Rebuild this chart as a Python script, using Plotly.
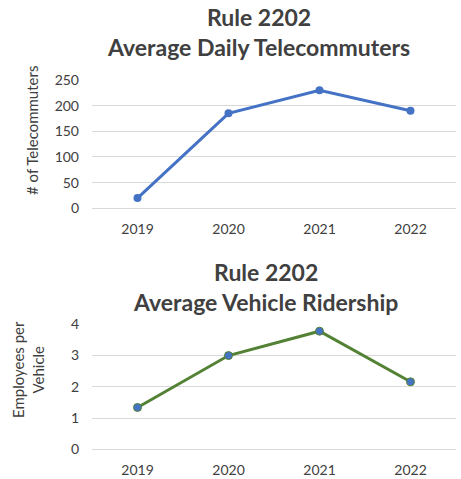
import plotly.graph_objects as go

years = ["2019", "2020", "2021", "2022"]
telecommuters = [20, 185, 230, 190]
ridership = [1.34, 3.0, 3.78, 2.16]
tele_ticks = [0, 50, 100, 150, 200, 250]
ride_ticks = [0, 1, 2, 3, 4]

W, H = 461, 479
FONT = "Lato"
TXT = "#404040"

def px(x):
    return x / W

def py(y):
    return 1 - y / H

fig = go.Figure()
fig.add_trace(go.Scatter(x=years, y=telecommuters, mode="lines+markers",
                         line=dict(color="#4472C4", width=3),
                         marker=dict(color="#4472C4", size=8),
                         xaxis="x", yaxis="y", showlegend=False))
fig.add_trace(go.Scatter(x=years, y=ridership, mode="lines+markers",
                         line=dict(color="#548235", width=3),
                         marker=dict(color="#4472C4", size=8, line=dict(color="#548235", width=1)),
                         xaxis="x2", yaxis="y2", showlegend=False))

xcommon = dict(type="category", showgrid=False, showline=True, linecolor="#D9D9D9",
               linewidth=1, ticks="", tickfont=dict(family=FONT, size=14, color=TXT),
               range=[-0.5, 3.5], fixedrange=True, automargin=False, ticklabelstandoff=8)
ycommon = dict(showgrid=True, gridcolor="#D9D9D9", gridwidth=1, zeroline=False,
               showline=False, ticks="", tickfont=dict(family=FONT, size=14, color=TXT),
               fixedrange=True, automargin=False, ticklabelstandoff=12)

ann = dict(xref="paper", yref="paper", showarrow=False, align="center",
           xanchor="center", yanchor="middle")

fig.update_layout(
    width=W, height=H,
    margin=dict(l=0, r=0, t=0, b=0, autoexpand=False),
    paper_bgcolor="white", plot_bgcolor="white",
    xaxis=dict(domain=[px(92), px(456)], anchor="y", **xcommon),
    yaxis=dict(domain=[py(208.3), py(80)], anchor="x", range=[0, 250],
               tickvals=tele_ticks, **ycommon),
    xaxis2=dict(domain=[px(92), px(456)], anchor="y2", **xcommon),
    yaxis2=dict(domain=[py(449.3), py(324.3)], anchor="x2", range=[0, 4],
                tickvals=ride_ticks, **ycommon),
    annotations=[
        dict(text="<b>Rule 2202<br>Average Daily Telecommuters</b>", x=px(258), y=py(32),
             font=dict(family=FONT, size=23, color=TXT), **ann),
        dict(text="<b>Rule 2202<br>Average Vehicle Ridership</b>", x=px(265), y=py(287),
             font=dict(family=FONT, size=23, color=TXT), **ann),
        dict(text="# of Telecommuters", x=px(32), y=py(131), textangle=-90,
             font=dict(family=FONT, size=15, color=TXT), **ann),
        dict(text="Employees per<br>Vehicle", x=px(28), y=py(370), textangle=-90,
             font=dict(family=FONT, size=15, color=TXT), **ann),
    ],
)

fig.write_html("out.html", config={"displayModeBar": False},
               post_script="document.body.style.margin='0';")
